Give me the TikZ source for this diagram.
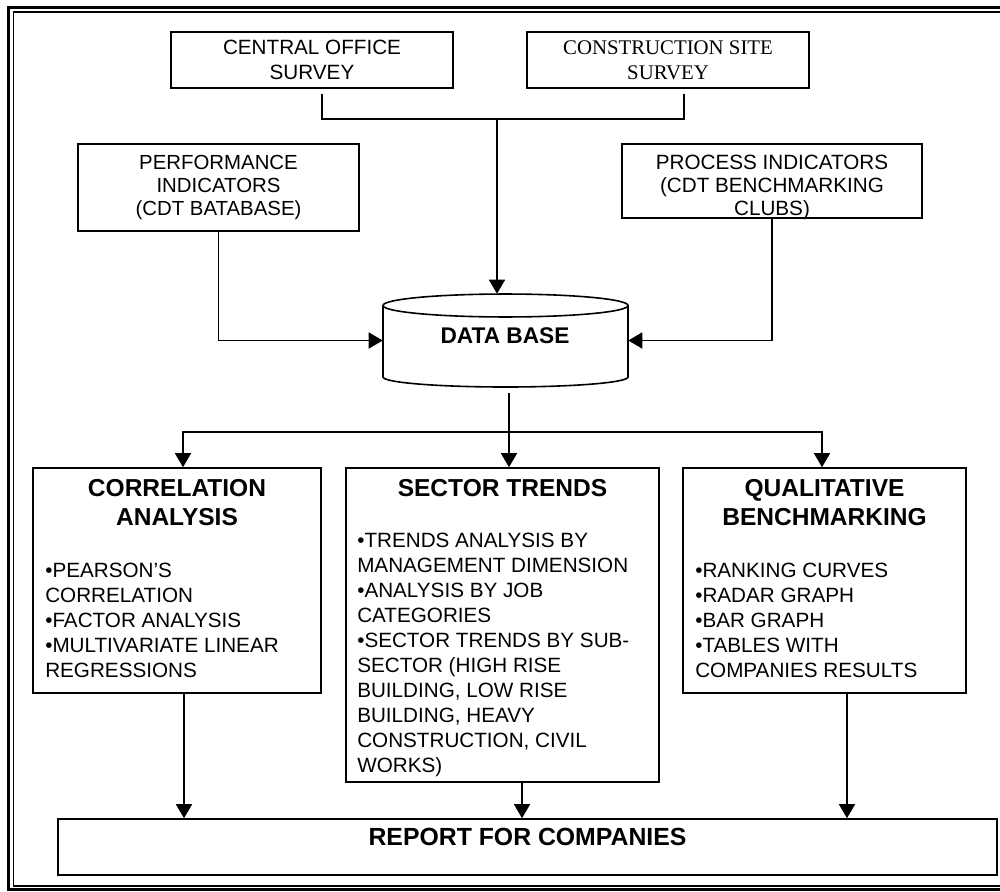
\documentclass[tikz,border=0pt]{standalone}
\usepackage{fontspec}
\setmainfont{Liberation Sans}
\newfontfamily\timesfont{Liberation Serif}
\usetikzlibrary{arrows.meta}
\begin{document}
\begin{tikzpicture}[x=0.75pt,y=-0.75pt,
  box/.style={draw, line width=1.2pt, rectangle, inner sep=0pt},
  conn/.style={line width=1.2pt},
  arr/.style={conn, -{Triangle[length=10.5pt,width=12pt]}},
  bodyfont/.style={font=\fontsize{15.5pt}{18.75pt}\selectfont},
  headfont/.style={font=\fontsize{18.4pt}{21.75pt}\selectfont\bfseries},
  txt/.style={inner sep=0pt},
]
\useasboundingbox (0,0) rectangle (1000,892);
% frame
\draw[line width=2pt] (8.5,7.7) rectangle (1012,889.5);
\draw[line width=1.1pt] (13.3,11.8) rectangle (1008,886);

% top boxes
\node[box, minimum width=211.5pt, minimum height=42pt, bodyfont, align=center] (central) at (312,60) {CENTRAL OFFICE\\SURVEY};
\node[box, minimum width=211.5pt, minimum height=42pt, font=\fontsize{15.6pt}{18.75pt}\selectfont\timesfont, align=center] (constr) at (668,60) {CONSTRUCTION SITE\\SURVEY};

\node[box, minimum width=210.75pt, minimum height=65.25pt] (perf) at (218.5,187.5) {};
\node[txt, font=\fontsize{15.3pt}{17.25pt}\selectfont, align=center, anchor=north] (perftext) at (218.5,153.3) {\strut PERFORMANCE\\INDICATORS\\(CDT BATABASE)};

\node[box, minimum width=225pt, minimum height=55.5pt] (proc) at (772,181) {};
\node[txt, font=\fontsize{15.5pt}{17.25pt}\selectfont, align=center, anchor=north] (proctext) at (772,153.3) {\strut PROCESS INDICATORS\\(CDT BENCHMARKING\\CLUBS)};

% database cylinder
\node[inner sep=0pt, minimum width=183.75pt, minimum height=69.75pt] (db) at (505.5,340.5) {};
\draw[conn] (505.5,305.5) ellipse [x radius=91.875pt, y radius=8.6pt];
\draw[conn] (383,305.5) -- (383,377) arc[start angle=180, end angle=360, x radius=91.875pt, y radius=7.5pt] -- (628,305.5);
\node[txt, font=\fontsize{17pt}{20pt}\selectfont\bfseries] (dbtext) at (505,336) {DATA BASE};

% connectors top
\coordinate (c1) at (322,94);
\coordinate (c2) at (684,94);
\coordinate (j1) at (497,119);
\draw[conn] (c1) |- (j1) -| (c2);
\draw[arr] (j1) -- (j1 |- db.north);
\draw[arr] (perf.south) |- (db.west);
\draw[arr] (proc.south) |- (db.east);

% middle boxes
\node[box, minimum width=216pt, minimum height=168.75pt] (corr) at (177,580.5) {};
\node[box, minimum width=234.75pt, minimum height=235.5pt] (sector) at (502.5,625) {};
\node[box, minimum width=212.25pt, minimum height=168.75pt] (qual) at (824.5,580.5) {};

\node[txt, headfont, align=center, anchor=north] (corrhead) at (177,475.5) {\strut CORRELATION\\ANALYSIS};
\node[txt, bodyfont, align=left, anchor=north west] (corrbody) at (45,560) {\strut •PEARSON’S\\CORRELATION\\•FACTOR ANALYSIS\\•MULTIVARIATE LINEAR\\REGRESSIONS};

\node[txt, headfont, align=center, anchor=north] (sechead) at (502.5,475.5) {\strut SECTOR TRENDS};
\node[txt, bodyfont, align=left, anchor=north west] (secbody) at (357,530) {\strut •TRENDS ANALYSIS BY\\MANAGEMENT DIMENSION\\•ANALYSIS BY JOB\\CATEGORIES\\•SECTOR TRENDS BY SUB-\\SECTOR (HIGH RISE\\BUILDING, LOW RISE\\BUILDING, HEAVY\\CONSTRUCTION, CIVIL\\WORKS)};

\node[txt, headfont, align=center, anchor=north] (qualhead) at (824.5,475.5) {\strut QUALITATIVE\\BENCHMARKING};
\node[txt, bodyfont, align=left, anchor=north west] (qualbody) at (695,560) {\strut •RANKING CURVES\\•RADAR GRAPH\\•BAR GRAPH\\•TABLES WITH\\COMPANIES RESULTS};

% db to analysis boxes
\coordinate (d1) at (509,393);
\coordinate (d2) at (509,432);
\coordinate (hl) at (183,432);
\coordinate (hr) at (822,432);
\draw[arr] (d1) -- (d1 |- sector.north);
\draw[arr] (d2) -| (hl |- corr.north);
\draw[arr] (d2) -| (hr |- qual.north);

% report
\node[box, minimum width=704.25pt, minimum height=42pt] (report) at (527.5,847) {};
\node[txt, font=\fontsize{18.6pt}{22pt}\selectfont\bfseries] (reptext) at (527.5,837) {REPORT FOR COMPANIES};

\coordinate (bx1) at (184,0);
\coordinate (bx2) at (522,0);
\coordinate (bx3) at (847,0);
\draw[arr] (bx1 |- corr.south) -- (bx1 |- report.north);
\draw[arr] (bx2 |- sector.south) -- (bx2 |- report.north);
\draw[arr] (bx3 |- qual.south) -- (bx3 |- report.north);
\end{tikzpicture}
\end{document}
